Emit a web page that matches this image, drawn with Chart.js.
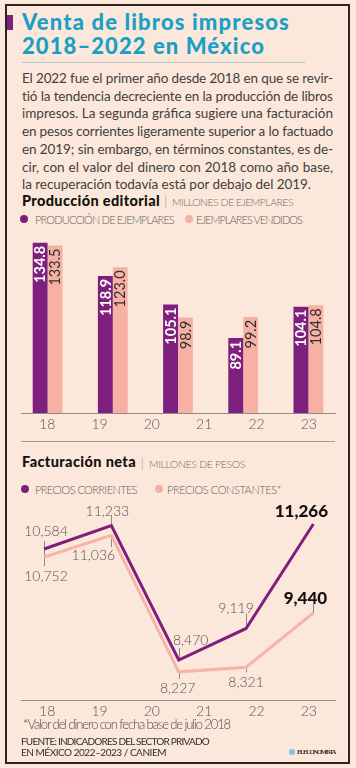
<!DOCTYPE html>
<html><head><meta charset="utf-8">
<script src="https://cdn.jsdelivr.net/npm/chart.js@4/dist/chart.umd.min.js"></script>
<style>
html,body{margin:0;padding:0;}
body{width:356px;height:768px;background:#fce8da;position:relative;overflow:hidden;font-family:Lato,"Open Sans",sans-serif;}
.a{position:absolute;white-space:nowrap;line-height:1;}
#frame{position:absolute;left:5px;top:4px;width:345px;height:760px;box-sizing:border-box;border:2px solid #2b2421;}
#mark{position:absolute;left:7px;top:15px;width:6px;height:15px;background:#7f1f7d;}
#title{position:absolute;left:22px;top:9.5px;font-weight:900;font-size:22px;line-height:24px;color:#1a9fc6;white-space:nowrap;}
#title span{display:inline-block;}
#rule{position:absolute;left:22px;top:62px;width:283px;height:1px;background:#b9c2c4;}
.p{position:absolute;left:22px;font-size:13.5px;color:#3f3f3f;white-space:nowrap;line-height:1;}
.h{font-weight:900;font-size:14.5px;color:#111;}
.u{font-weight:300;font-size:10.5px;color:#6f6f6f;}
.bar{font-weight:300;font-size:14px;color:#9a9a9a;}
.lg{font-weight:300;font-size:11px;color:#5f5f5f;}
.dot{position:absolute;width:8px;height:8px;border-radius:50%;}
.sep{position:absolute;left:21px;top:441px;width:314px;height:1px;background:#9d9d9d;}
canvas{position:absolute;left:0;}
</style></head><body>
<div id="frame"></div>
<div id="mark"></div>
<div id="title"><span data-w="268">Venta de libros impresos</span><br><span data-w="243">2018–2022 en México</span></div>
<div id="rule"></div>

<span class="p" style="top:72px" data-j="311">El 2022 fue el primer año desde 2018 en que se revir-</span>
<span class="p" style="top:89.7px" data-j="311">tió la tendencia decreciente en la producción de libros</span>
<span class="p" style="top:107.4px" data-j="311">impresos. La segunda gráfica sugiere una facturación</span>
<span class="p" style="top:125.1px" data-j="311">en pesos corrientes ligeramente superior a lo factuado</span>
<span class="p" style="top:142.8px" data-j="311">en 2019; sin embargo, en términos constantes, es de-</span>
<span class="p" style="top:160.5px" data-j="311">cir, con el valor del dinero con 2018 como año base,</span>
<span class="p" style="top:178.2px" data-w="289">la recuperación todavía está por debajo del 2019.</span>

<span class="a h" style="left:22px;top:193.8px" data-w="138">Producción editorial</span>
<span class="a bar" style="left:164px;top:194px">|</span>
<span class="a u" style="left:172px;top:197.4px" data-w="121">MILLONES DE EJEMPLARES</span>

<div class="dot" style="left:19.5px;top:215px;background:#7f1f7d"></div>
<span class="a lg" style="left:35px;top:213.6px" data-w="139">PRODUCCIÓN DE EJEMPLARES</span>
<div class="dot" style="left:185px;top:215px;background:#f6b1a4"></div>
<span class="a lg" style="left:196px;top:213.6px" data-w="106">EJEMPLARES VENDIDOS</span>

<canvas id="bars" width="356" height="210" style="top:228px;width:356px;height:210px"></canvas>
<div class="sep"></div>

<span class="a h" style="left:22px;top:455.4px" data-w="114">Facturación neta</span>
<span class="a bar" style="left:140.5px;top:455.6px">|</span>
<span class="a u" style="left:149px;top:459px" data-w="96">MILLONES DE PESOS</span>

<div class="dot" style="left:20.5px;top:485px;background:#7f1f7d"></div>
<span class="a lg" style="left:35px;top:483.6px" data-w="102">PRECIOS CORRIENTES</span>
<div class="dot" style="left:155px;top:485px;background:#f6b1a4"></div>
<span class="a lg" style="left:167px;top:483.6px" data-w="114">PRECIOS CONSTANTES*</span>

<canvas id="lines" width="356" height="230" style="top:495px;width:356px;height:230px"></canvas>

<span class="a" style="left:23px;top:717.5px;font-size:13px;font-weight:300;color:#4f4f4f" data-w="207">*Valor del dinero con fecha base de julio 2018</span>
<span class="a" style="left:21px;top:736.3px;font-size:10px;color:#2f2f2f" data-w="188">FUENTE: INDICADORES DEL SECTOR PRIVADO</span>
<span class="a" style="left:21px;top:746.8px;font-size:10px;color:#2f2f2f" data-w="145">EN MÉXICO 2022–2023 / CANIEM</span>
<div class="dot" style="left:289px;top:749px;width:6px;height:6px;background:#8fc3dc"></div>
<span class="a" style="left:297px;top:748.5px;font-family:'Liberation Serif',serif;font-weight:bold;font-size:7px;color:#333" data-w="38">EL ECONOMISTA</span>

<script>
// ---- data ----
const years = [2018, 2019, 2020, 2021, 2022];
const tickLabels = ['18', '19', '20', '21', '22', '23'];
const produccionEjemplares = [134.8, 118.9, 105.1, 89.1, 104.1];
const ejemplaresVendidos = [133.5, 123.0, 98.9, 99.2, 104.8];
const preciosCorrientes = [10752, 11233, 8470, 9119, 11266];
const preciosConstantes = [10584, 11036, 8227, 8321, 9440];

const PURPLE = '#7f1f7d';
const PINK = '#f6b1a4';
const PINK_LINE = '#f6b3a7';

// ---- text fitting ----
function fitText() {
  document.querySelectorAll('[data-w]').forEach(el => {
    el.style.display = 'inline-block';
    el.style.letterSpacing = '0px';
    const w = el.getBoundingClientRect().width;
    const n = el.textContent.length;
    el.style.letterSpacing = ((+el.dataset.w - w) / n) + 'px';
  });
  document.querySelectorAll('[data-j]').forEach(el => {
    el.style.display = 'inline-block';
    el.style.letterSpacing = '0px';
    el.style.wordSpacing = '0px';
    const w = el.getBoundingClientRect().width;
    const t = el.textContent;
    const spaces = (t.match(/ /g) || []).length;
    const extra = +el.dataset.j - w;
    if (extra >= 0) el.style.wordSpacing = (extra / spaces) + 'px';
    else el.style.letterSpacing = (extra / t.length) + 'px';
  });
}
fitText();

Chart.defaults.font.family = "Lato, 'Open Sans', sans-serif";

const barLabels = {
  id: 'barLabels',
  afterDatasetsDraw(chart, args, opts) {
    const ctx = chart.ctx;
    chart.data.datasets.forEach((ds, di) => {
      const meta = chart.getDatasetMeta(di);
      const st = opts.styles[di];
      meta.data.forEach((el, i) => {
        ctx.save();
        ctx.translate(el.x, el.y + st.gap);
        ctx.rotate(-Math.PI / 2);
        ctx.font = st.font;
        ctx.fillStyle = st.color;
        ctx.textAlign = 'right';
        ctx.textBaseline = 'alphabetic';
        ctx.fillText(ds.data[i].toFixed(1), 0, st.size * 0.36);
        ctx.restore();
      });
    });
  }
};

const lineLabels = {
  id: 'lineLabels',
  beforeDatasetsDraw(chart, args, opts) {
    const ctx = chart.ctx;
    ctx.save();
    ctx.strokeStyle = opts.leadColor;
    ctx.lineWidth = 1;
    chart.data.datasets.forEach((ds, di) => {
      chart.getDatasetMeta(di).data.forEach((pt, i) => {
        const p = opts.place[di][i];
        if (!p.lead) return;
        const x = Math.round(pt.x) + 0.5;
        ctx.beginPath();
        ctx.moveTo(x, pt.y + p.lead[0]);
        ctx.lineTo(x, pt.y + p.lead[1]);
        ctx.stroke();
      });
    });
    ctx.restore();
  },
  afterDatasetsDraw(chart, args, opts) {
    const ctx = chart.ctx;
    chart.data.datasets.forEach((ds, di) => {
      chart.getDatasetMeta(di).data.forEach((pt, i) => {
        const p = opts.place[di][i];
        const size = p.bold ? opts.boldSize : opts.size;
        ctx.save();
        ctx.font = (p.bold ? '900 ' : '300 ') + size + 'px Lato, sans-serif';
        ctx.fillStyle = p.bold ? opts.boldColor : opts.color;
        ctx.textAlign = 'center';
        ctx.textBaseline = 'alphabetic';
        ctx.fillText(ds.data[i].toLocaleString('en-US'), pt.x + p.dx, pt.y + p.dy + size * 0.36);
        ctx.restore();
      });
    });
  }
};

function bottomAxis() {
  return {
    type: 'category', labels: tickLabels, position: 'bottom', offset: true,
    grid: { display: false, drawTicks: false },
    border: { display: true, color: '#8c8c8c', width: 1 },
    ticks: { color: '#555', font: { size: 14, weight: '300' }, padding: 3, autoSkip: false, maxRotation: 0 },
    afterFit(s) { s.height = 22; }
  };
}

new Chart(document.getElementById('bars'), {
  type: 'bar',
  data: {
    labels: years,
    datasets: [
      { label: 'Producción de ejemplares', data: produccionEjemplares, backgroundColor: PURPLE, categoryPercentage: 0.56, barPercentage: 1 },
      { label: 'Ejemplares vendidos', data: ejemplaresVendidos, backgroundColor: PINK, categoryPercentage: 0.56, barPercentage: 1 }
    ]
  },
  options: {
    responsive: false, animation: false, devicePixelRatio: 1,
    layout: { padding: { left: 21, right: 21, top: 4, bottom: 3 } },
    plugins: {
      legend: { display: false }, tooltip: { enabled: false },
      barLabels: { styles: [
        { font: '700 14.5px Lato, sans-serif', size: 14.5, color: '#ffffff', gap: 3 },
        { font: '400 14.5px Lato, sans-serif', size: 14.5, color: '#2e2e2e', gap: 3 }
      ] }
    },
    scales: {
      x: { type: 'linear', display: false, min: 2017.592, max: 2022.408, bounds: 'data', offset: false,
           ticks: { stepSize: 1, includeBounds: false }, grid: { offset: false } },
      x2: bottomAxis(),
      y: { type: 'linear', display: false, min: 53, max: 140, bounds: 'data', beginAtZero: false }
    }
  },
  plugins: [barLabels]
});

new Chart(document.getElementById('lines'), {
  type: 'line',
  data: {
    labels: years,
    datasets: [
      { label: 'Precios corrientes', data: preciosCorrientes, borderColor: PURPLE, borderWidth: 3, pointRadius: 0, tension: 0, borderJoinStyle: 'miter', fill: false },
      { label: 'Precios constantes*', data: preciosConstantes, borderColor: PINK_LINE, borderWidth: 3, pointRadius: 0, tension: 0, borderJoinStyle: 'miter', fill: false }
    ]
  },
  options: {
    responsive: false, animation: false, devicePixelRatio: 1,
    layout: { padding: { left: 21, right: 21, top: 5, bottom: 3 } },
    plugins: {
      legend: { display: false }, tooltip: { enabled: false },
      lineLabels: {
        size: 14, boldSize: 17, color: '#555', boldColor: '#111', leadColor: '#8a8a8a',
        place: [
          [ { dx: 2, dy: 27, lead: [0, 17] }, { dx: -4, dy: -15, lead: [-10, 0] }, { dx: 12, dy: -20, lead: [-12, 0] },
            { dx: -10, dy: -20, lead: [-15, 0] }, { dx: -12, dy: -13, bold: true } ],
          [ { dx: 2, dy: -26, lead: [-16, 0] }, { dx: -18, dy: 20, lead: [0, 12] }, { dx: -1, dy: 16, lead: [0, 7] },
            { dx: 0, dy: 14.5, lead: [0, 5] }, { dx: -8, dy: -15, bold: true, lead: [-9, 0] } ]
        ]
      }
    },
    scales: {
      x: { type: 'linear', display: false, min: 2017.658, max: 2022.321, bounds: 'data', offset: false,
           ticks: { stepSize: 1, includeBounds: false } },
      x2: bottomAxis(),
      y: { type: 'linear', display: false, min: 7648, max: 11760, bounds: 'data', beginAtZero: false }
    }
  },
  plugins: [lineLabels]
});
</script>
</body></html>
